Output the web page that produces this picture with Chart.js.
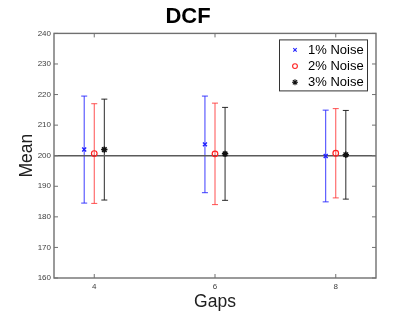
<!DOCTYPE html>
<html>
<head>
<meta charset="utf-8">
<script src="https://cdn.jsdelivr.net/npm/chart.js@4/dist/chart.umd.min.js"></script>
<style>
  html, body { margin: 0; padding: 0; background: #fff; }
  #wrap { width: 415px; height: 312px; }
</style>
</head>
<body>
<div id="wrap"><canvas id="dcfChart"></canvas></div>
<script>
// data
const gaps = [4, 6, 8]
const xTicks = [4, 6, 8]
const yTicks = [160, 170, 180, 190, 200, 210, 220, 230, 240]
const seriesLabels = ['1% Noise', '2% Noise', '3% Noise']

const noise1Mean = [202.0, 203.7, 199.9]
const noise1Err = [17.5, 15.8, 15.0]
const noise2Mean = [200.7, 200.6, 200.8]
const noise2Err = [16.3, 16.6, 14.6]
const noise3Mean = [202.0, 200.6, 200.3]
const noise3Err = [16.5, 15.2, 14.5]

const refValue = 200
const xMin = 10 / 3
const xMax = 26 / 3

// small sideways shift so the three groups don't overlap
const seriesShift = [-1 / 6, 0, 1 / 6]

const FRAME = '#707070'
const FONT = "'Liberation Sans', Arial, Helvetica, sans-serif"
Chart.defaults.font.family = FONT

function points(means, k) {
  return means.map((m, j) => ({ x: gaps[j] + seriesShift[k], y: m }))
}

const errorBars = {
  id: 'errorBars',
  beforeDatasetsDraw(chart) {
    const ctx = chart.ctx
    const yScale = chart.scales.y
    chart.data.datasets.forEach((ds, i) => {
      if (!ds.errors) return
      const meta = chart.getDatasetMeta(i)
      ctx.save()
      ctx.strokeStyle = ds.barColor
      ctx.lineWidth = 1
      meta.data.forEach((pt, j) => {
        const v = ds.data[j].y
        const e = ds.errors[j]
        const top = yScale.getPixelForValue(v + e)
        const bot = yScale.getPixelForValue(v - e)
        ctx.beginPath()
        ctx.moveTo(pt.x, top)
        ctx.lineTo(pt.x, bot)
        ctx.moveTo(pt.x - 3, top)
        ctx.lineTo(pt.x + 3, top)
        ctx.moveTo(pt.x - 3, bot)
        ctx.lineTo(pt.x + 3, bot)
        ctx.stroke()
      })
      ctx.restore()
    })
  }
}

// matlab style box with inward ticks
const boxFrame = {
  id: 'boxFrame',
  afterDatasetsDraw(chart) {
    const { ctx, chartArea: a, scales } = chart
    ctx.save()
    ctx.strokeStyle = FRAME
    ctx.lineWidth = 1.4
    ctx.strokeRect(a.left, a.top, a.right - a.left, a.bottom - a.top)
    ctx.lineWidth = 1
    ctx.beginPath()
    scales.x.ticks.forEach(t => {
      const px = scales.x.getPixelForValue(t.value)
      ctx.moveTo(px, a.bottom)
      ctx.lineTo(px, a.bottom - 4)
      ctx.moveTo(px, a.top)
      ctx.lineTo(px, a.top + 4)
    })
    scales.y.ticks.forEach(t => {
      const py = scales.y.getPixelForValue(t.value)
      ctx.moveTo(a.left, py)
      ctx.lineTo(a.left + 4, py)
      ctx.moveTo(a.right, py)
      ctx.lineTo(a.right - 4, py)
    })
    ctx.stroke()
    ctx.restore()
  }
}

// legend box in the upper right corner of the axes
const boxLegend = {
  id: 'boxLegend',
  afterDraw(chart) {
    const { ctx, chartArea: a } = chart
    const w = 88, h = 51
    const left = a.right - 97
    const top = a.top + 6
    ctx.save()
    ctx.fillStyle = '#fff'
    ctx.fillRect(left, top, w, h)
    ctx.strokeStyle = '#333'
    ctx.lineWidth = 1
    ctx.strokeRect(left + 0.5, top + 0.5, w, h)
    ctx.font = '13px ' + FONT
    ctx.textBaseline = 'middle'
    let row = 0
    chart.data.datasets.forEach(ds => {
      if (!ds.errors) return
      const cy = top + 10.5 + row * 16.2
      ctx.strokeStyle = ds.borderColor
      ctx.fillStyle = ds.backgroundColor
      ctx.lineWidth = 1.1
      Chart.helpers.drawPoint(ctx, {
        pointStyle: ds.pointStyle,
        radius: ds.pointStyle === 'star' ? 3 : 2.4,
        rotation: 0,
        borderWidth: 1.1
      }, left + 16, cy)
      ctx.fillStyle = '#000'
      ctx.fillText(ds.label, left + 29, cy + 0.5)
      row++
    })
    ctx.restore()
  }
}

new Chart(document.getElementById('dcfChart'), {
  type: 'scatter',
  data: {
    datasets: [
      {
        label: seriesLabels[0],
        data: points(noise1Mean, 0),
        errors: noise1Err,
        barColor: 'rgba(40,40,255,0.9)',
        borderColor: '#2020ff',
        backgroundColor: '#2020ff',
        pointStyle: 'crossRot',
        pointRadius: 2.8,
        borderWidth: 1.4,
        order: 1
      },
      {
        label: seriesLabels[1],
        data: points(noise2Mean, 1),
        errors: noise2Err,
        barColor: 'rgba(255,50,50,0.85)',
        borderColor: '#ff2020',
        backgroundColor: 'rgba(0,0,0,0)',
        pointStyle: 'circle',
        pointRadius: 2.8,
        borderWidth: 1.2,
        order: 1
      },
      {
        label: seriesLabels[2],
        data: points(noise3Mean, 2),
        errors: noise3Err,
        barColor: 'rgba(20,20,20,0.9)',
        borderColor: '#111',
        backgroundColor: '#111',
        pointStyle: 'star',
        pointRadius: 3.2,
        borderWidth: 1.5,
        order: 1
      },
      {
        type: 'line',
        label: 'ref',
        data: [{ x: xMin, y: refValue }, { x: xMax, y: refValue }],
        borderColor: '#5a5a5a',
        borderWidth: 1.6,
        pointRadius: 0,
        order: 5
      }
    ]
  },
  options: {
    responsive: true,
    maintainAspectRatio: false,
    animation: false,
    layout: { padding: { left: 0, right: 39, top: 0, bottom: 0 } },
    plugins: {
      legend: { display: false },
      tooltip: { enabled: false },
      title: {
        display: true,
        text: 'DCF',
        color: '#000',
        font: { size: 22, weight: 'bold' },
        padding: { top: 4, bottom: 3 }
      }
    },
    scales: {
      x: {
        type: 'linear',
        min: xMin,
        max: xMax,
        grid: { display: false, drawTicks: false },
        border: { display: false },
        afterBuildTicks: s => { s.ticks = xTicks.map(v => ({ value: v })) },
        afterFit: s => { s.height = 34 },
        ticks: { color: '#404040', font: { size: 8 }, padding: 4 },
        title: {
          display: true,
          text: 'Gaps',
          color: '#202020',
          font: { size: 17.5, lineHeight: 1.1 },
          padding: { top: 0, bottom: 0 }
        }
      },
      y: {
        min: 160,
        max: 240,
        grid: { display: false, drawTicks: false },
        border: { display: false },
        afterBuildTicks: s => { s.ticks = yTicks.map(v => ({ value: v })) },
        afterFit: s => { s.width = 54 },
        ticks: { color: '#404040', font: { size: 8 }, padding: 3 },
        title: {
          display: true,
          text: 'Mean',
          color: '#202020',
          font: { size: 17.5 },
          padding: { top: 17, bottom: 0 }
        }
      }
    }
  },
  plugins: [errorBars, boxFrame, boxLegend]
})
</script>
</body>
</html>
